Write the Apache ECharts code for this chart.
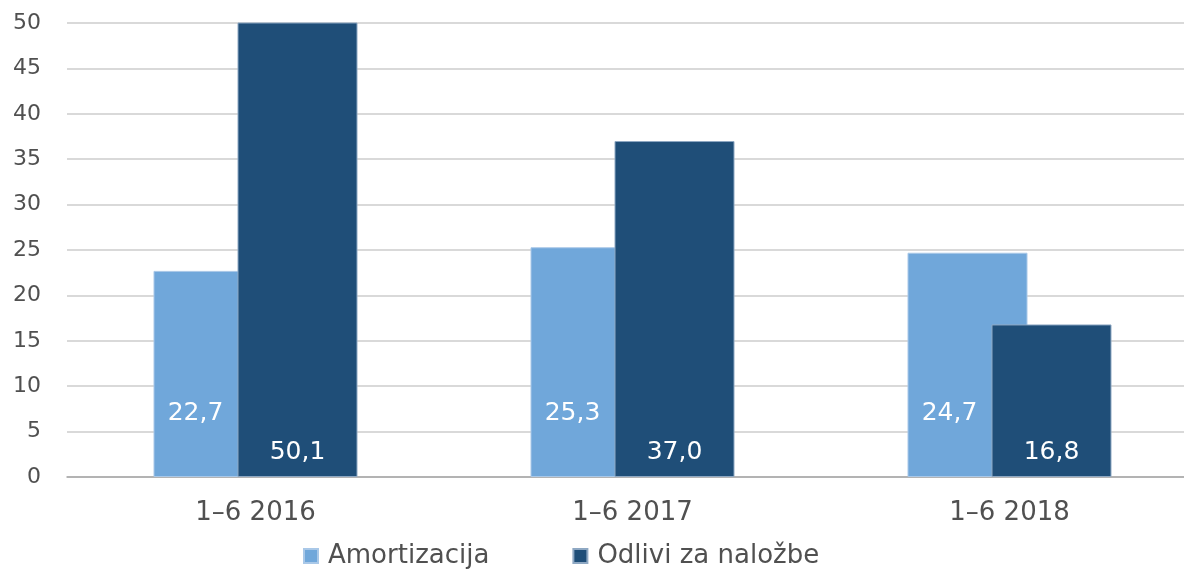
<!DOCTYPE html>
<html>
<head>
<meta charset="utf-8">
<script src="https://cdn.jsdelivr.net/npm/echarts@6/dist/echarts.min.js"></script>
<style>
  html, body { margin: 0; padding: 0; background: #fff; }
  #chart { width: 1184px; height: 569px; }
</style>
</head>
<body>
<div id="chart"></div>
<script>
const categories = ["1–6 2016", "1–6 2017", "1–6 2018"];
const amortizacija = [22.7, 25.3, 24.7];
const odlivi = [50.1, 37.0, 16.8];
const seriesNames = ["Amortizacija", "Odlivi za naložbe"];

const font = "'DejaVu Sans', 'Open Sans', sans-serif";
const fmt = (p) => p.value.toFixed(1).replace(".", ",");

const chart = echarts.init(document.getElementById("chart"));
chart.setOption({
  animation: false,
  textStyle: { fontFamily: font },
  grid: { left: 67, top: 23, width: 1131, height: 454, outerBoundsMode: "none" },
  legend: {
    left: 298,
    top: 538,
    itemGap: 83,
    itemWidth: 14,
    itemHeight: 14,
    icon: "rect",
    textStyle: { fontSize: 26, color: "#505050", fontFamily: font, padding: [0, 0, 0, 5] },
    data: seriesNames,
  },
  xAxis: {
    type: "category",
    data: categories,
    axisTick: { show: false },
    axisLine: { lineStyle: { color: "#a6a6a6", width: 1.5 } },
    axisLabel: { fontSize: 26, color: "#505050", margin: 23 },
  },
  yAxis: {
    type: "value",
    min: 0,
    max: 50,
    interval: 5,
    axisLine: { show: false },
    axisTick: { show: false },
    axisLabel: { fontSize: 22, color: "#505050", margin: 26 },
    splitLine: { lineStyle: { color: "#d9d9d9", width: 2 } },
  },
  series: [
    {
      name: seriesNames[0],
      type: "bar",
      data: amortizacija,
      barWidth: 120,
      barGap: "-30%",
      itemStyle: { color: "#70a7da", borderColor: "#a9c8e8", borderWidth: 1 },
      label: {
        show: true,
        position: "insideBottom",
        distance: 51,
        offset: [-18, 0],
        formatter: fmt,
        color: "#fff",
        fontSize: 25,
        fontFamily: font,
      },
    },
    {
      name: seriesNames[1],
      type: "bar",
      data: odlivi,
      barWidth: 120,
      itemStyle: { color: "#1f4e78", borderColor: "#8ea8c3", borderWidth: 1 },
      label: {
        show: true,
        position: "insideBottom",
        distance: 12,
        formatter: fmt,
        color: "#fff",
        fontSize: 25,
        fontFamily: font,
      },
    },
  ],
});
</script>
</body>
</html>
